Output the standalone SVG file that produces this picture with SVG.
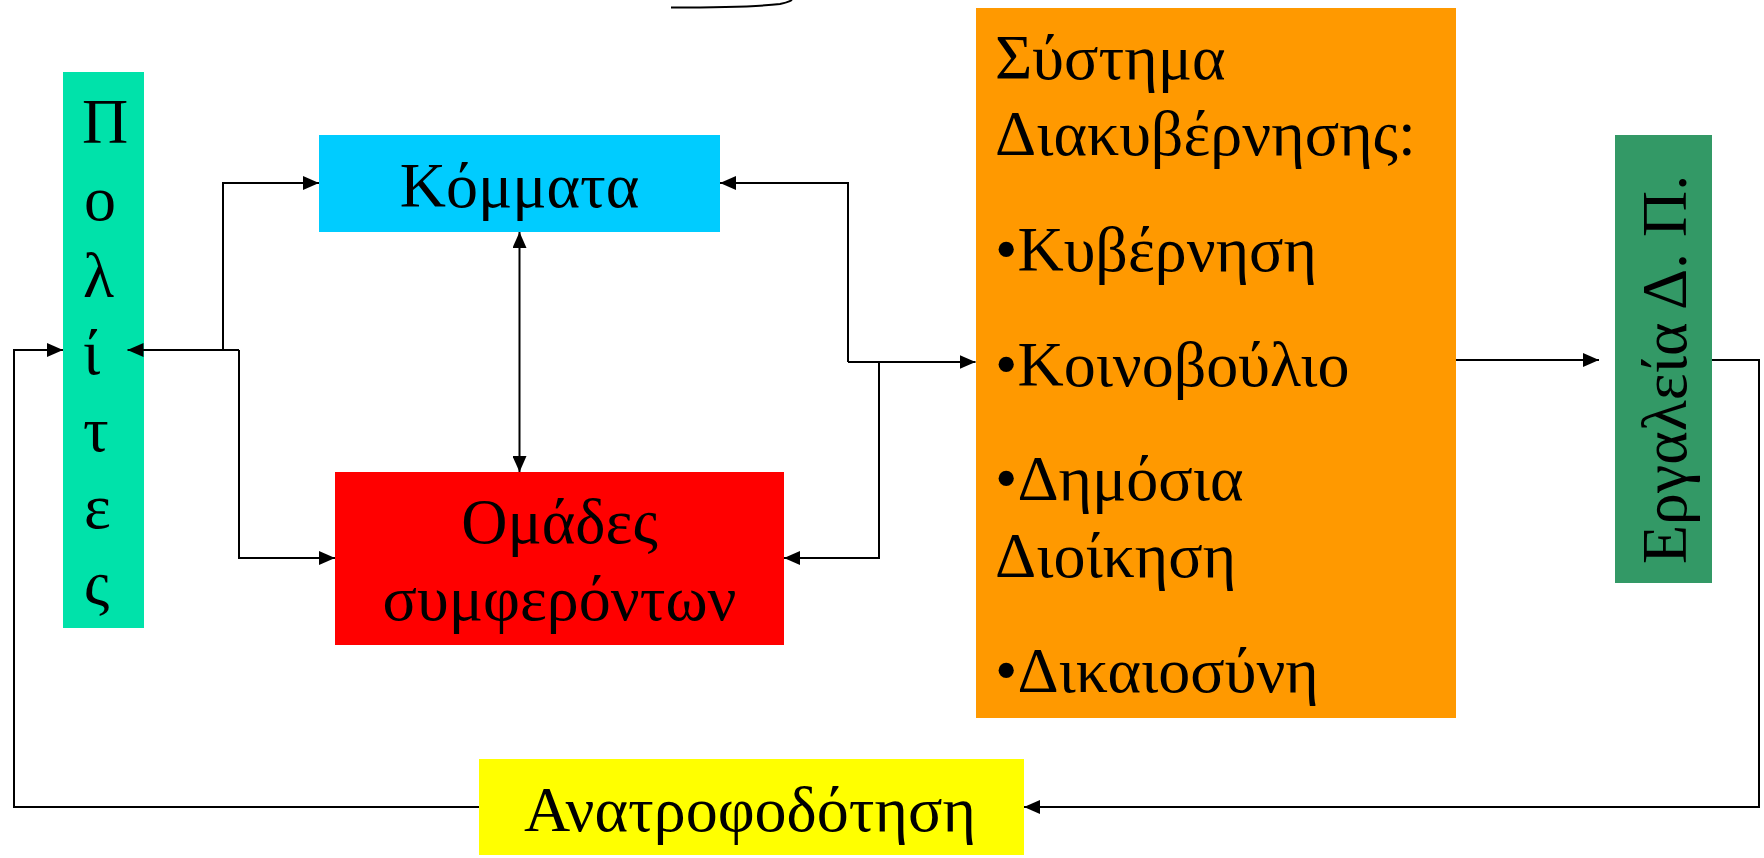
<svg xmlns="http://www.w3.org/2000/svg" width="1764" height="858" viewBox="0 0 1764 858">
  <style>
    .t { font-family: "Liberation Serif", "Times New Roman", serif; font-size: 64px; fill: #000; }
    .c { fill: none; stroke: #000; stroke-width: 2; }
  </style>
  <defs>
    <marker id="ah" markerUnits="userSpaceOnUse" markerWidth="16" markerHeight="14" refX="16" refY="7" orient="auto-start-reverse" viewBox="0 0 16 14">
      <path d="M0,0 L16,7 L0,14 z" fill="#000"/>
    </marker>
  </defs>
  <rect width="1764" height="858" fill="#fff"/>

  <g id="top-curve">
    <path class="c" d="M671,7.5 C715,7.5 760,6.5 780,4 Q788,2.5 792,0"/>
  </g>

  <g id="politis">
    <rect x="63" y="72" width="81" height="556" fill="#00E2AA"/>
    <text class="t" x="82" y="143">Π</text>
    <text class="t" x="84" y="220">ο</text>
    <text class="t" x="83" y="297">λ</text>
    <text class="t" x="83" y="374">ί</text>
    <text class="t" x="83" y="451">τ</text>
    <text class="t" x="84" y="528">ε</text>
    <text class="t" x="84" y="605">ς</text>
  </g>

  <g id="kommata">
    <rect x="319" y="135" width="401" height="97" fill="#00CCFF"/>
    <text class="t" x="519.5" y="207" text-anchor="middle">Κόμματα</text>
  </g>

  <g id="omades">
    <rect x="335" y="472" width="449" height="173" fill="#FF0000"/>
    <text class="t" x="559.5" y="543" text-anchor="middle">Ομάδες</text>
    <text class="t" x="559.5" y="620" text-anchor="middle">συμφερόντων</text>
  </g>

  <g id="systima">
    <rect x="976" y="8" width="480" height="710" fill="#FF9900"/>
    <text class="t" x="995" y="79">Σύστημα</text>
    <text class="t" x="995" y="155">Διακυβέρνησης:</text>
    <text class="t" x="995" y="271">•Κυβέρνηση</text>
    <text class="t" x="995" y="386">•Κοινοβούλιο</text>
    <text class="t" x="995" y="500">•Δημόσια</text>
    <text class="t" x="995" y="577">Διοίκηση</text>
    <text class="t" x="995" y="692">•Δικαιοσύνη</text>
  </g>

  <g id="ergaleia">
    <rect x="1615" y="135" width="97" height="448" fill="#339966"/>
    <text class="t" transform="translate(1686,564) rotate(-90)">Εργαλεία Δ. Π.</text>
  </g>

  <g id="anatrofodotisi">
    <rect x="479" y="759" width="545" height="96" fill="#FFFF00"/>
    <text class="t" x="750" y="831" text-anchor="middle">Ανατροφοδότηση</text>
  </g>

  <g id="connectors">
    <path class="c" d="M223,350 L223,183 L319,183" marker-end="url(#ah)"/>
    <path class="c" d="M239,350 L239,558 L335,558" marker-end="url(#ah)"/>
    <path class="c" d="M239,350 L127.5,350" marker-end="url(#ah)"/>
    <path class="c" d="M519.5,232 L519.5,472" marker-start="url(#ah)" marker-end="url(#ah)"/>
    <path class="c" d="M848,362 L848,183 L720,183" marker-end="url(#ah)"/>
    <path class="c" d="M879,362 L879,558 L784,558" marker-end="url(#ah)"/>
    <path class="c" d="M848,362 L975.5,362" marker-end="url(#ah)"/>
    <path class="c" d="M1456,360 L1599,360" marker-end="url(#ah)"/>
    <path class="c" d="M1712,360 L1759,360 L1759,807 L1024,807" marker-end="url(#ah)"/>
    <path class="c" d="M479,807 L14,807 L14,350 L63,350" marker-end="url(#ah)"/>
  </g>
</svg>
